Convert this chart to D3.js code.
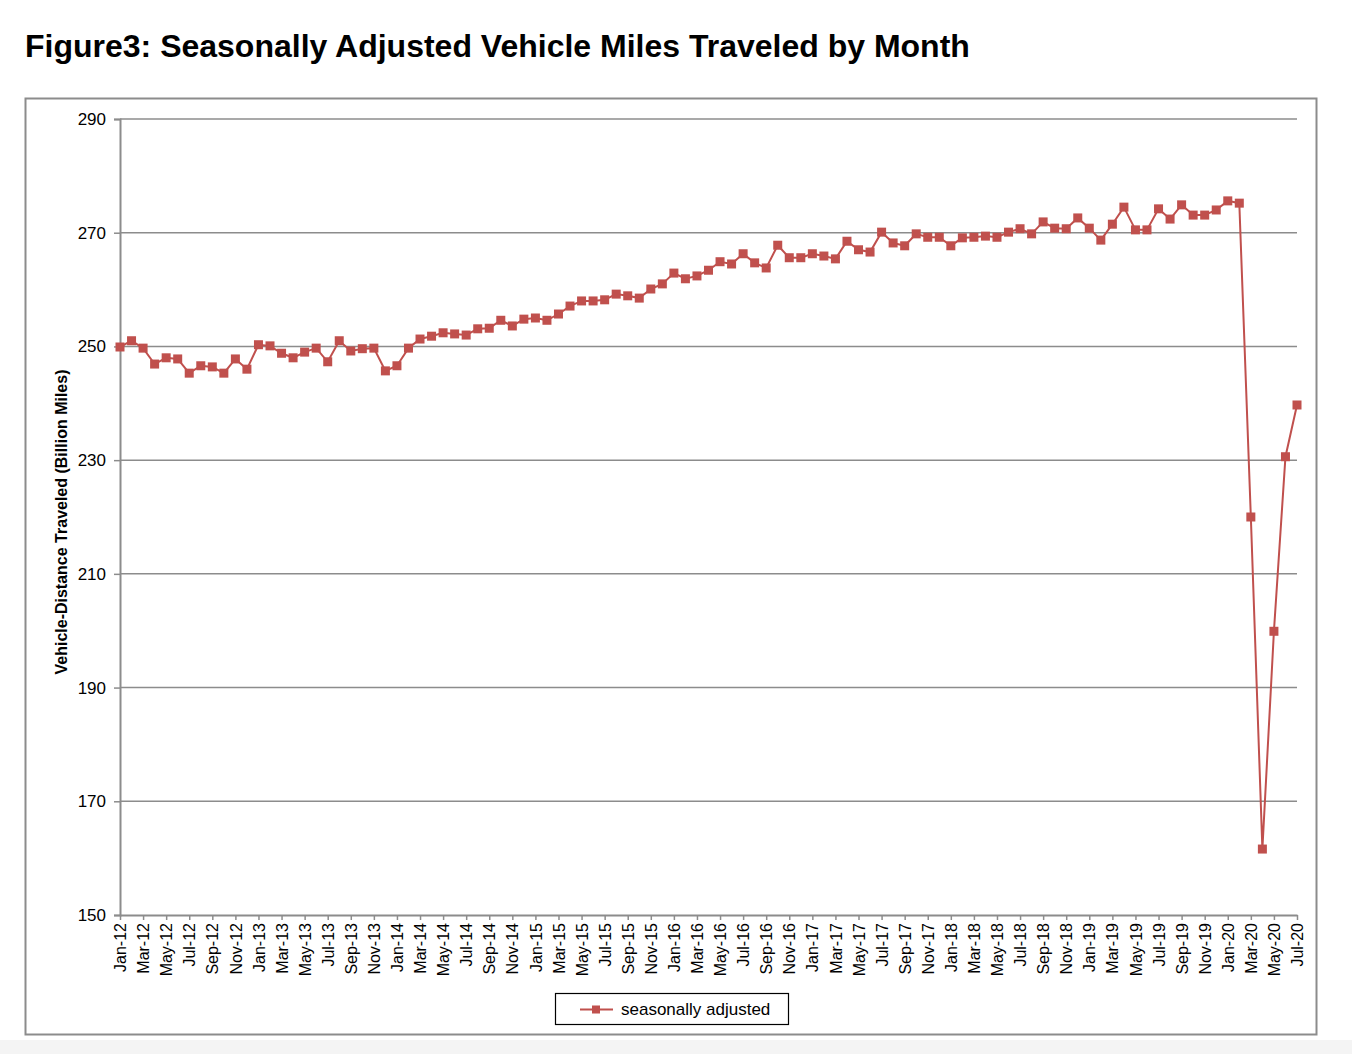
<!DOCTYPE html>
<html>
<head>
<meta charset="utf-8">
<script src="https://cdn.jsdelivr.net/npm/d3@7"></script>
<style>
  body { margin: 0; background: #fff; font-family: "Liberation Sans", Arial, sans-serif; }
</style>
</head>
<body>
<script>
var w = 1352, h = 1054;

// month labels Jan-12 .. Jul-20
var monthNames = ["Jan","Feb","Mar","Apr","May","Jun","Jul","Aug","Sep","Oct","Nov","Dec"];
var months = [];
for (var yr = 12; yr <= 20; yr++) {
  for (var m = 0; m < 12; m++) {
    if (yr === 20 && m > 6) break;
    months.push(monthNames[m] + "-" + yr);
  }
}

var values = [
  249.9, 251.0, 249.7, 246.9, 248.0, 247.8, 245.3, 246.6, 246.4, 245.3, 247.8, 246.0, // 2012
  250.3, 250.1, 248.8, 248.0, 249.0, 249.7, 247.3, 251.0, 249.2, 249.6, 249.7, 245.7, // 2013
  246.6, 249.7, 251.3, 251.8, 252.4, 252.2, 252.0, 253.1, 253.2, 254.6, 253.6, 254.8, // 2014
  255.0, 254.6, 255.7, 257.1, 258.0, 258.0, 258.2, 259.2, 258.9, 258.5, 260.1, 261.0, // 2015
  262.9, 261.9, 262.4, 263.4, 264.9, 264.5, 266.3, 264.7, 263.8, 267.8, 265.6, 265.6, // 2016
  266.3, 265.9, 265.4, 268.5, 267.0, 266.6, 270.1, 268.2, 267.7, 269.8, 269.2, 269.2, // 2017
  267.7, 269.1, 269.2, 269.4, 269.2, 270.1, 270.7, 269.8, 271.9, 270.8, 270.7, 272.6, // 2018
  270.8, 268.7, 271.5, 274.5, 270.5, 270.5, 274.2, 272.4, 274.9, 273.1, 273.1, 274.0, // 2019
  275.6, 275.2, 220.0, 161.6, 199.9, 230.6, 239.7                                     // 2020
];

var yTicks = [150, 170, 190, 210, 230, 250, 270, 290];
var seriesName = "seasonally adjusted";
var titleText = "Figure3: Seasonally Adjusted Vehicle Miles Traveled by Month";
var yTitle = "Vehicle-Distance Traveled (Billion Miles)";

var red = "#C0504D";
var gray = "#8c8c8c";
var font = "Liberation Sans, Arial, sans-serif";

var svg = d3.select("body")
  .append("svg")
  .attr("width", w)
  .attr("height", h);

// light gray strip at the bottom of the page
svg.append("rect")
  .attr("x", 0).attr("y", 1040).attr("width", w).attr("height", 14)
  .style("fill", "#f4f4f4");

svg.append("text")
  .attr("x", 25)
  .attr("y", 57)
  .style("font-family", font)
  .style("font-weight", "bold")
  .style("font-size", "32px")
  .style("fill", "#000")
  .text(titleText);

// chart frame
svg.append("rect")
  .attr("x", 25.5).attr("y", 98.5)
  .attr("width", 1291).attr("height", 936)
  .style("fill", "#fff")
  .style("stroke", gray)
  .style("stroke-width", 2);

var plotLeft = 120, plotRight = 1297, plotTop = 119, plotBottom = 915;

var x = d3.scalePoint()
  .domain(months)
  .range([plotLeft, plotRight]);

var y = d3.scaleLinear()
  .domain([150, 290])
  .range([plotBottom, plotTop]);

// gridlines
svg.append("g")
  .selectAll("line")
  .data(yTicks.slice(1))
  .enter()
  .append("line")
  .attr("x1", plotLeft).attr("x2", plotRight)
  .attr("y1", function(d){ return y(d); })
  .attr("y2", function(d){ return y(d); })
  .style("stroke", gray)
  .style("stroke-width", 1.5);

// y axis
var yAxis = d3.axisLeft(y)
  .tickValues(yTicks)
  .tickSize(6)
  .tickPadding(8);

var yg = svg.append("g")
  .attr("transform", "translate(" + plotLeft + ",0)")
  .call(yAxis);
yg.select(".domain").style("stroke", gray).style("stroke-width", 2);
yg.selectAll(".tick line").style("stroke", gray).style("stroke-width", 1.5);
yg.selectAll(".tick text")
  .style("font-family", font)
  .style("font-size", "17px")
  .style("fill", "#000");

// x axis
var xAxis = d3.axisBottom(x)
  .tickValues(months.filter(function(d, i){ return i % 2 === 0; }))
  .tickSize(5)
  .tickSizeOuter(0);

var xg = svg.append("g")
  .attr("transform", "translate(0," + plotBottom + ")")
  .call(xAxis);
xg.select(".domain").style("stroke", gray).style("stroke-width", 2);
xg.selectAll(".tick line").style("stroke", gray).style("stroke-width", 1.5);
xg.selectAll(".tick text")
  .attr("transform", "rotate(-90)")
  .attr("text-anchor", "end")
  .attr("x", -8)
  .attr("y", 0)
  .attr("dy", "0.35em")
  .style("font-family", font)
  .style("font-size", "16px")
  .style("fill", "#000");

// y axis title
svg.append("text")
  .attr("transform", "translate(67,522) rotate(-90)")
  .attr("text-anchor", "middle")
  .style("font-family", font)
  .style("font-weight", "bold")
  .style("font-size", "16px")
  .style("fill", "#000")
  .text(yTitle);

// series line
var line = d3.line()
  .x(function(d, i){ return x(months[i]); })
  .y(function(d){ return y(d); });

svg.append("path")
  .datum(values)
  .attr("d", line)
  .style("fill", "none")
  .style("stroke", red)
  .style("stroke-width", 2);

var ms = 9;
svg.selectAll(".marker")
  .data(values)
  .enter()
  .append("rect")
  .attr("class", "marker")
  .attr("x", function(d, i){ return x(months[i]) - ms / 2; })
  .attr("y", function(d){ return y(d) - ms / 2; })
  .attr("width", ms)
  .attr("height", ms)
  .style("fill", red);

// legend
var lg = svg.append("g").attr("transform", "translate(555,993)");
lg.append("rect")
  .attr("x", 0.5).attr("y", 0.5)
  .attr("width", 233).attr("height", 31)
  .style("fill", "#fff")
  .style("stroke", "#000")
  .style("stroke-width", 1.2);
lg.append("line")
  .attr("x1", 25).attr("x2", 58)
  .attr("y1", 16.5).attr("y2", 16.5)
  .style("stroke", red)
  .style("stroke-width", 2);
lg.append("rect")
  .attr("x", 37).attr("y", 12.5)
  .attr("width", 8).attr("height", 8)
  .style("fill", red);
lg.append("text")
  .attr("x", 66)
  .attr("y", 22)
  .style("font-family", font)
  .style("font-size", "17px")
  .style("fill", "#000")
  .text(seriesName);
</script>
</body>
</html>
